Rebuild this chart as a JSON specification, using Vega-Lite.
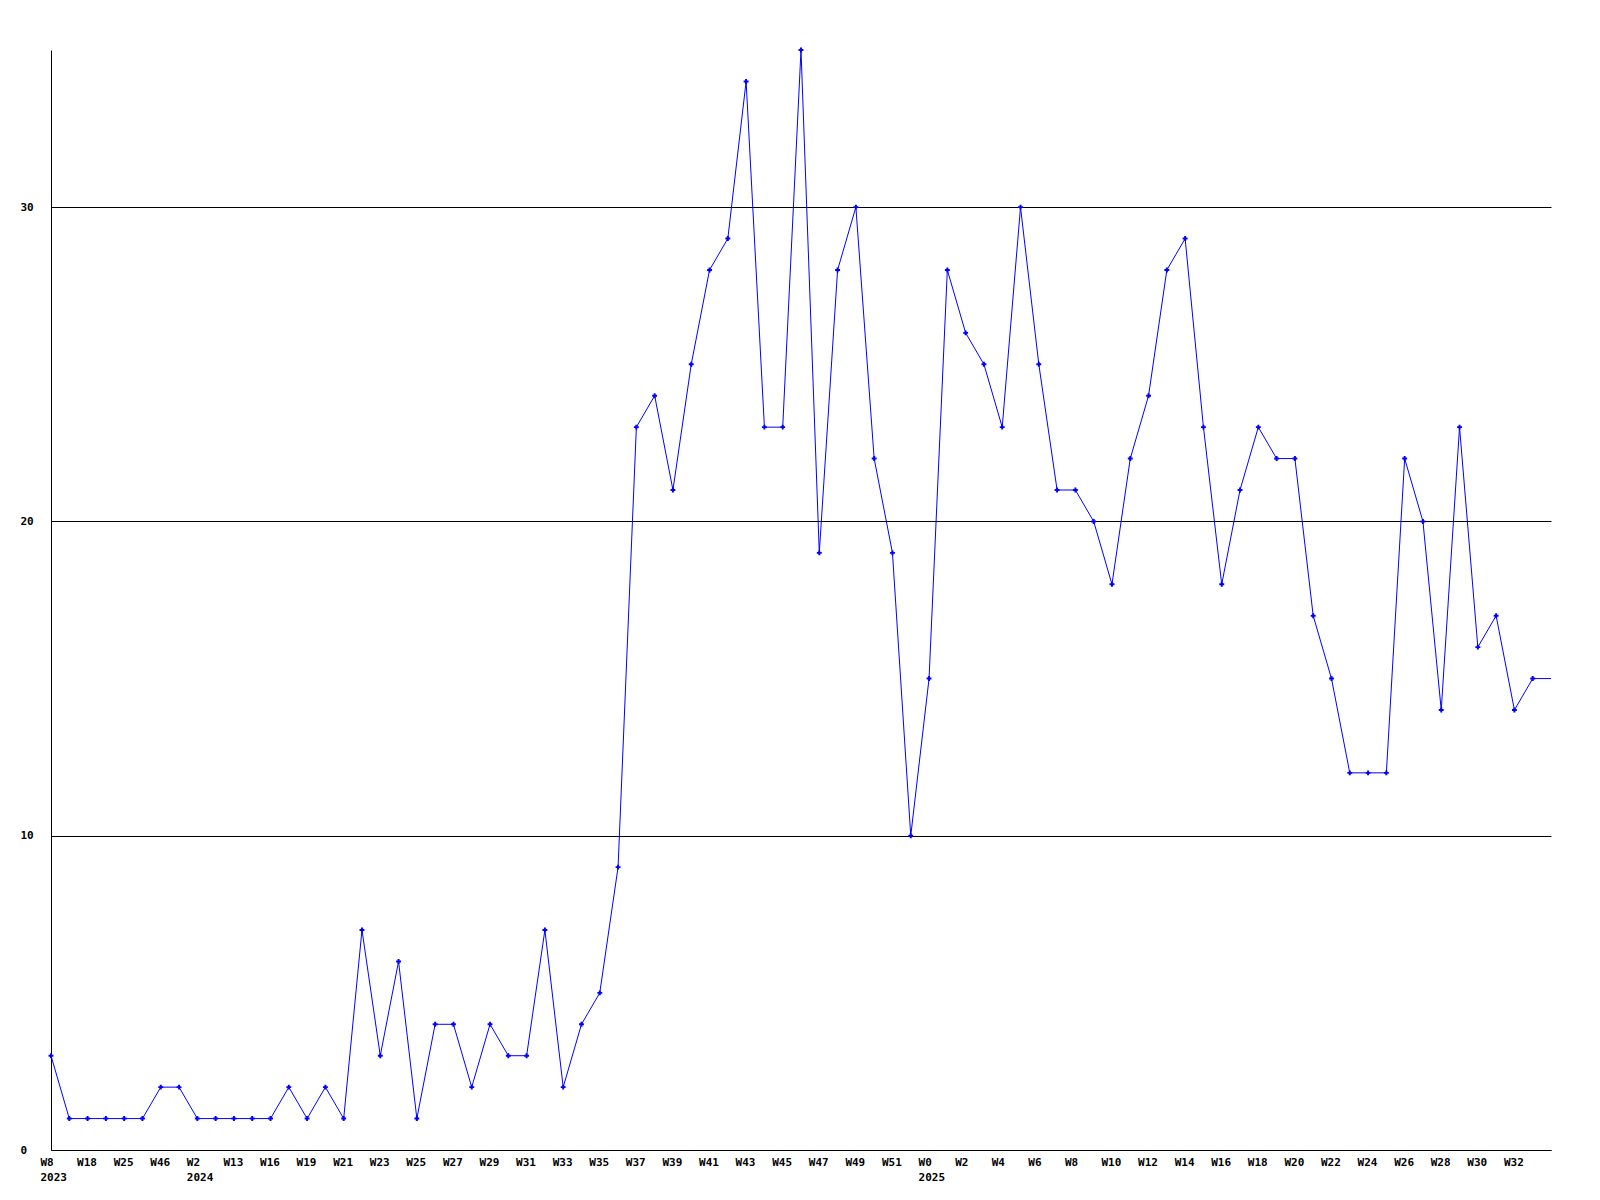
{
  "$schema": "https://vega.github.io/schema/vega-lite/v6.json",
  "width": 1500,
  "height": 1100,
  "autosize": {"type": "none"},
  "padding": {"left": 51, "top": 50, "right": 49, "bottom": 50},
  "background": "white",
  "config": {"view": {"stroke": null}},
  "data": {"values": [
    {"key": "2023-W8", "v": 3},
    {"key": "2023-W12", "v": 1},
    {"key": "2023-W18", "v": 1},
    {"key": "2023-W21", "v": 1},
    {"key": "2023-W25", "v": 1},
    {"key": "2023-W30", "v": 1},
    {"key": "2023-W46", "v": 2},
    {"key": "2023-W50", "v": 2},
    {"key": "2024-W2", "v": 1},
    {"key": "2024-W8", "v": 1},
    {"key": "2024-W13", "v": 1},
    {"key": "2024-W15", "v": 1},
    {"key": "2024-W16", "v": 1},
    {"key": "2024-W17", "v": 2},
    {"key": "2024-W19", "v": 1},
    {"key": "2024-W20", "v": 2},
    {"key": "2024-W21", "v": 1},
    {"key": "2024-W22", "v": 7},
    {"key": "2024-W23", "v": 3},
    {"key": "2024-W24", "v": 6},
    {"key": "2024-W25", "v": 1},
    {"key": "2024-W26", "v": 4},
    {"key": "2024-W27", "v": 4},
    {"key": "2024-W28", "v": 2},
    {"key": "2024-W29", "v": 4},
    {"key": "2024-W30", "v": 3},
    {"key": "2024-W31", "v": 3},
    {"key": "2024-W32", "v": 7},
    {"key": "2024-W33", "v": 2},
    {"key": "2024-W34", "v": 4},
    {"key": "2024-W35", "v": 5},
    {"key": "2024-W36", "v": 9},
    {"key": "2024-W37", "v": 23},
    {"key": "2024-W38", "v": 24},
    {"key": "2024-W39", "v": 21},
    {"key": "2024-W40", "v": 25},
    {"key": "2024-W41", "v": 28},
    {"key": "2024-W42", "v": 29},
    {"key": "2024-W43", "v": 34},
    {"key": "2024-W44", "v": 23},
    {"key": "2024-W45", "v": 23},
    {"key": "2024-W46", "v": 35},
    {"key": "2024-W47", "v": 19},
    {"key": "2024-W48", "v": 28},
    {"key": "2024-W49", "v": 30},
    {"key": "2024-W50", "v": 22},
    {"key": "2024-W51", "v": 19},
    {"key": "2024-W52", "v": 10},
    {"key": "2025-W0", "v": 15},
    {"key": "2025-W1", "v": 28},
    {"key": "2025-W2", "v": 26},
    {"key": "2025-W3", "v": 25},
    {"key": "2025-W4", "v": 23},
    {"key": "2025-W5", "v": 30},
    {"key": "2025-W6", "v": 25},
    {"key": "2025-W7", "v": 21},
    {"key": "2025-W8", "v": 21},
    {"key": "2025-W9", "v": 20},
    {"key": "2025-W10", "v": 18},
    {"key": "2025-W11", "v": 22},
    {"key": "2025-W12", "v": 24},
    {"key": "2025-W13", "v": 28},
    {"key": "2025-W14", "v": 29},
    {"key": "2025-W15", "v": 23},
    {"key": "2025-W16", "v": 18},
    {"key": "2025-W17", "v": 21},
    {"key": "2025-W18", "v": 23},
    {"key": "2025-W19", "v": 22},
    {"key": "2025-W20", "v": 22},
    {"key": "2025-W21", "v": 17},
    {"key": "2025-W22", "v": 15},
    {"key": "2025-W23", "v": 12},
    {"key": "2025-W24", "v": 12},
    {"key": "2025-W25", "v": 12},
    {"key": "2025-W26", "v": 22},
    {"key": "2025-W27", "v": 20},
    {"key": "2025-W28", "v": 14},
    {"key": "2025-W29", "v": 23},
    {"key": "2025-W30", "v": 16},
    {"key": "2025-W31", "v": 17},
    {"key": "2025-W32", "v": 14},
    {"key": "2025-W33", "v": 15},
    {"key": "2025-W34", "v": 15, "complete": false}
  ]},
  "encoding": {
    "x": {
      "field": "key",
      "type": "ordinal",
      "sort": null,
      "scale": {"type": "point", "padding": 0},
      "axis": {
        "title": null,
        "values": ["2023-W8", "2023-W18", "2023-W25", "2023-W46", "2024-W2", "2024-W13", "2024-W16", "2024-W19", "2024-W21", "2024-W23", "2024-W25", "2024-W27", "2024-W29", "2024-W31", "2024-W33", "2024-W35", "2024-W37", "2024-W39", "2024-W41", "2024-W43", "2024-W45", "2024-W47", "2024-W49", "2024-W51", "2025-W0", "2025-W2", "2025-W4", "2025-W6", "2025-W8", "2025-W10", "2025-W12", "2025-W14", "2025-W16", "2025-W18", "2025-W20", "2025-W22", "2025-W24", "2025-W26", "2025-W28", "2025-W30", "2025-W32"],
        "labelExpr": "(datum.value == '2023-W8' || datum.value == '2024-W2' || datum.value == '2025-W0') ? [split(datum.value, '-')[1], split(datum.value, '-')[0]] : split(datum.value, '-')[1]",
        "grid": false,
        "ticks": false,
        "tickSize": 0,
        "domainColor": "black",
        "domainWidth": 1,
        "labelAngle": 0,
        "labelAlign": "left",
        "labelBaseline": "top",
        "labelOffset": -11,
        "labelPadding": 6,
        "labelLineHeight": 15,
        "labelOverlap": false,
        "labelBound": false,
        "labelFont": "DejaVu Sans Mono",
        "labelFontWeight": "bold",
        "labelFontSize": 11,
        "labelColor": "black"
      }
    },
    "y": {
      "field": "v",
      "type": "quantitative",
      "scale": {"domain": [0, 35], "nice": false, "zero": true},
      "axis": {
        "title": null,
        "values": [0, 10, 20, 30],
        "grid": true,
        "gridColor": "black",
        "gridOpacity": 1,
        "gridWidth": 1,
        "ticks": false,
        "tickSize": 0,
        "domainColor": "black",
        "domainWidth": 1,
        "labelAlign": "left",
        "labelBaseline": "middle",
        "labelPadding": 31,
        "labelFont": "DejaVu Sans Mono",
        "labelFontWeight": "bold",
        "labelFontSize": 11,
        "labelColor": "black"
      }
    }
  },
  "layer": [
    {"mark": {"type": "line", "color": "#0000ff", "strokeWidth": 1}},
    {
      "transform": [{"filter": "datum.complete !== false"}],
      "mark": {"type": "point", "shape": "cross", "filled": true, "size": 24, "color": "#0000ff", "opacity": 1}
    }
  ]
}
